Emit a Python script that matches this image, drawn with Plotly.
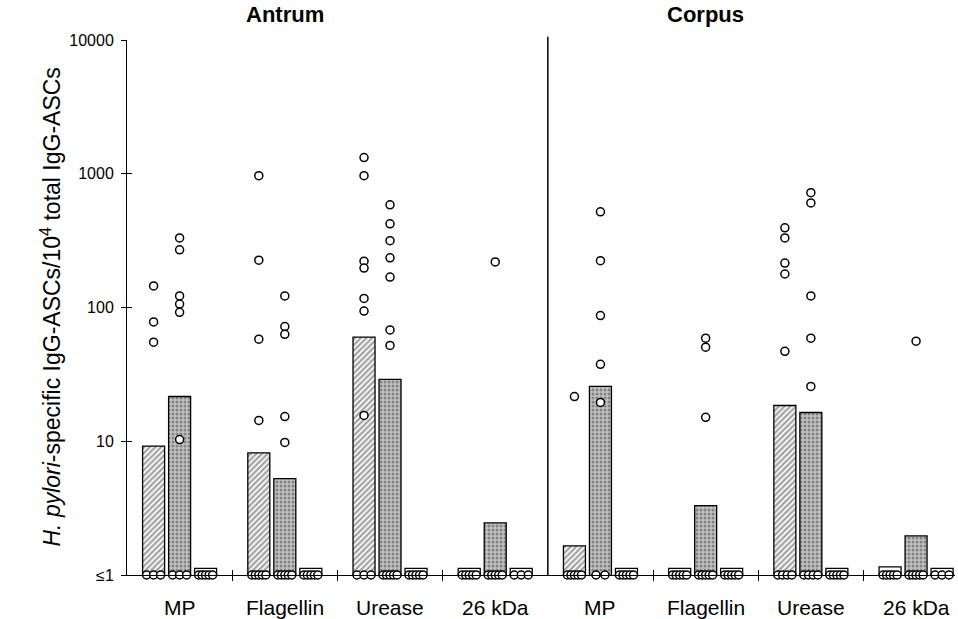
import numpy as np
import plotly.graph_objects as go

# ---------------- data ----------------
regions = ["Antrum", "Corpus"]
antigens = ["MP", "Flagellin", "Urease", "26 kDa"]

# order: Antrum MP, Flagellin, Urease, 26 kDa, Corpus MP, Flagellin, Urease, 26 kDa
hatched_bar = [9.2, 8.2, 60, 1.12, 1.65, 1.12, 18.5, 1.15]
stippled_bar = [21.6, 5.25, 29, 2.45, 25.7, 3.3, 16.4, 1.96]
third_bar = [1.12, 1.12, 1.12, 1.12, 1.12, 1.12, 1.12, 1.12]

hatched_pts = [
    [145, 78, 55],
    [967, 226, 58, 14.3],
    [1320, 967, 222, 197, 117, 94, 15.6],
    [],
    [21.6],
    [],
    [394, 331, 215, 178, 47],
    [],
]
stippled_pts = [
    [331, 270, 122, 106, 92, 10.3],
    [122, 72, 63, 15.3, 9.8],
    [586, 422, 316, 235, 169, 68, 52],
    [219],
    [519, 224, 87, 37.6, 19.5],
    [59, 50.5, 15.1],
    [722, 605, 122, 59, 25.7],
    [56],
]
third_pts = [[], [], [], [], [], [], [], []]

# number of subjects at the detection limit (<=1)
hatched_zero = [3, 5, 3, 5, 5, 5, 4, 5]
stippled_zero = [3, 5, 5, 5, 2, 5, 4, 5]
third_zero = [5, 5, 5, 3, 5, 5, 5, 3]

y_tickvals = [1, 10, 100, 1000, 10000]
y_ticktext = ["\u22641", "10", "100", "1000", "10000"]

# ---------------- layout constants ----------------
W, H = 958, 619
ML, MR, MT, MB = 127, 3, 40, 44
XR = [-0.5, 7.37]
px_unit = (W - ML - MR) / (XR[1] - XR[0])
FONT = "Liberation Sans, Arial, sans-serif"

n_groups = len(regions) * len(antigens)
idx = np.arange(n_groups)
offsets = [-26 / px_unit, 0.0, 26 / px_unit]
bar_w = 22 / px_unit

fig = go.Figure()

series = [
    (hatched_bar, hatched_pts, hatched_zero, "/", "#ffffff", "#000000", 0.55),
    (stippled_bar, stippled_pts, stippled_zero, ".", "#c2c2c2", "#777777", 0.45),
    (third_bar, third_pts, third_zero, "", "#ffffff", "#000000", 0.3),
]

for (vals, pts, zeros, shape, bg, fg, sol), off in zip(series, offsets):
    small = [v < 1.3 for v in vals]
    fig.add_trace(go.Bar(
        x=idx + off, y=vals, width=bar_w,
        marker=dict(
            color=["#ffffff" if s else bg for s in small],
            line=dict(color="#000000", width=1.3),
            pattern=dict(shape=["" if s else shape for s in small],
                         fgcolor=fg, size=4, solidity=sol),
        ),
        showlegend=False, hoverinfo="skip",
    ))

for (vals, pts, zeros, shape, bg, fg, sol), off in zip(series, offsets):
    xs, ys = [], []
    for g in idx:
        for v in pts[g]:
            xs.append(g + off)
            ys.append(v)
        n = zeros[g]
        if n > 0:
            sp = 9 if n == 1 else min(9, 14 / (n - 1))
            for k in range(n):
                xs.append(g + off + (k - (n - 1) / 2) * sp / px_unit)
                ys.append(1)
    fig.add_trace(go.Scatter(
        x=xs, y=ys, mode="markers", cliponaxis=False,
        marker=dict(symbol="circle", size=8, color="#ffffff",
                    line=dict(color="#000000", width=1.5)),
        showlegend=False, hoverinfo="skip",
    ))

# dummy traces for overlay tick axes
fig.add_trace(go.Scatter(x=[None], y=[None], xaxis="x", yaxis="y2", showlegend=False))
fig.add_trace(go.Scatter(x=[None], y=[None], xaxis="x2", yaxis="y", showlegend=False))
fig.add_trace(go.Scatter(x=[None], y=[None], xaxis="x3", yaxis="y", showlegend=False))

boundaries = [g - 0.5 for g in idx if g % len(antigens) != 0]
divider = len(antigens) - 0.5

fig.add_shape(type="line", xref="x", yref="paper", x0=divider, x1=divider,
              y0=0, y1=1.006, line=dict(color="#000000", width=1.5))

# category labels
for g in idx:
    fig.add_annotation(x=g, y=0, xref="x", yref="paper", yanchor="middle",
                       yshift=-32, showarrow=False,
                       text=antigens[g % len(antigens)],
                       font=dict(family=FONT, size=21, color="#000000"))

# region titles
for r, name in enumerate(regions):
    fig.add_annotation(x=r * len(antigens) + 1, y=1, xref="x", yref="paper",
                       yanchor="middle", yshift=26, showarrow=False,
                       text="<b>" + name + "</b>",
                       font=dict(family=FONT, size=22, color="#000000"))

# y title
fig.add_annotation(x=0, y=0.5, xref="paper", yref="paper", xanchor="center",
                   yanchor="middle", xshift=-77, textangle=-90, showarrow=False,
                   text="<i>H. pylori</i>-specific IgG-ASCs/10<sup>4</sup> total IgG-ASCs",
                   font=dict(family=FONT, size=23, color="#000000"))

fig.update_layout(
    width=W, height=H,
    margin=dict(l=ML, r=MR, t=MT, b=MB),
    paper_bgcolor="#ffffff", plot_bgcolor="#ffffff",
    barmode="overlay", showlegend=False,
    xaxis=dict(range=XR, showgrid=False, zeroline=False, showline=True,
               linecolor="#000000", linewidth=1, ticks="", showticklabels=False,
               fixedrange=True),
    xaxis2=dict(overlaying="x", range=XR, showgrid=False, zeroline=False,
                showline=False, tickmode="array", tickvals=boundaries,
                ticks="outside", ticklen=5, tickcolor="#000000",
                showticklabels=False, anchor="y"),
    xaxis3=dict(overlaying="x", range=XR, showgrid=False, zeroline=False,
                showline=False, tickmode="array", tickvals=boundaries,
                ticks="inside", ticklen=5, tickcolor="#000000",
                showticklabels=False, anchor="y"),
    yaxis=dict(type="log", range=[0, 4], tickmode="array", tickvals=y_tickvals,
               ticktext=y_ticktext, ticks="outside", ticklen=5,
               tickcolor="#000000", showline=True, linecolor="#000000",
               linewidth=1, showgrid=False, zeroline=False, ticklabelstandoff=4,
               tickfont=dict(family=FONT, size=16, color="#000000")),
    yaxis2=dict(type="log", range=[0, 4], overlaying="y", tickmode="array",
                tickvals=y_tickvals, ticks="inside", ticklen=5,
                tickcolor="#000000", showticklabels=False, showline=False,
                showgrid=False, zeroline=False, anchor="x"),
)

fig.write_html("out.html", config={"displayModeBar": False},
               post_script="document.body.style.margin='0px';document.body.style.padding='0px';")
